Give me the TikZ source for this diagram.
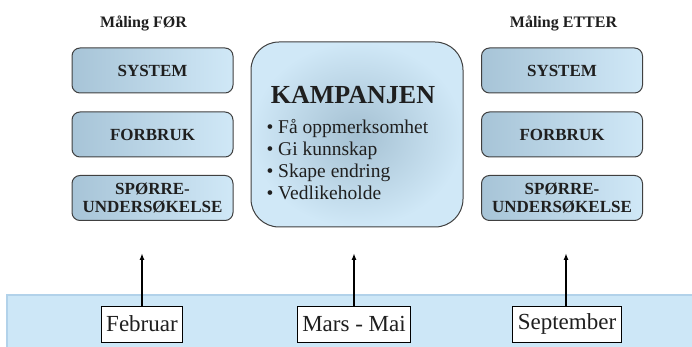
\documentclass[tikz,border=0pt]{standalone}
\usepackage{fontspec}
\setmainfont{Liberation Serif}
\usetikzlibrary{arrows.meta}
\definecolor{boxleft}{HTML}{A7C4D7}
\definecolor{boxright}{HTML}{D0E8F7}
\definecolor{bandblue}{HTML}{CDE7F7}
\definecolor{bandedge}{HTML}{B2D2EA}
\definecolor{kampin}{HTML}{A4C0D2}
\tikzset{
  malebox/.style={draw=black!75,line width=1pt,rounded corners=8pt,left color=boxleft,right color=boxright,
    minimum width=161pt,minimum height=45pt,align=center,text=black!88,
    font=\fontsize{17}{18.5}\selectfont\bfseries},
  tittel/.style={text=black!88,font=\fontsize{16}{18}\selectfont\bfseries},
  maaned/.style={draw=black,line width=0.8pt,fill=white,minimum height=36pt,inner xsep=5pt,
    text=black!88,font=\fontsize{23}{25}\selectfont},
  pil/.style={-{Latex[length=7pt,width=5pt]},line width=1.5pt}
}
\begin{document}
\begin{tikzpicture}[x=1pt,y=1pt]
\useasboundingbox (0,0) rectangle (692,347);
\fill[bandblue] (7,0) rectangle (692,52);
\draw[bandedge,line width=1.5pt] (7,0) -- (7,52) -- (692,52);
\node[tittel] (forTittel) at (143.5,324) {Måling FØR};
\node[tittel] (etterTittel) at (563.5,324) {Måling ETTER};
\node[malebox] (forSystem) at (152.5,276.5) {SYSTEM};
\node[malebox] (forForbruk) at (152.5,212.5) {FORBRUK};
\node[malebox] (forSporre) at (152.5,149) {SPØRRE-\\UNDERSØKELSE};
\node[malebox] (etterSystem) at (562,276.5) {SYSTEM};
\node[malebox] (etterForbruk) at (562,212.5) {FORBRUK};
\node[malebox] (etterSporre) at (562,149) {SPØRRE-\\UNDERSØKELSE};
\node[draw=black!75,line width=1pt,rounded corners=28pt,inner color=kampin,outer color=boxright,
  minimum width=212pt,minimum height=185pt] (kampanjen) at (357,212.5) {};
\node[text=black!88,font=\fontsize{26}{28}\selectfont\bfseries] (kampTittel) at (353,252) {KAMPANJEN};
\node[anchor=west,align=left,text=black!88,font=\fontsize{19.5}{22}\selectfont] (kampPunkter) at (263,187)
  {\textbullet\ Få oppmerksomhet\\ \textbullet\ Gi kunnskap\\ \textbullet\ Skape endring\\ \textbullet\ Vedlikeholde};
\node[maaned] (februar) at (142,23) {Februar};
\node[maaned] (marsMai) at (354,23) {Mars - Mai};
\node[maaned] (september) at (567,23) {September};
\coordinate (febTopp) at (142,94);
\coordinate (marsTopp) at (354,94);
\coordinate (sepTopp) at (566,94);
\draw[pil] (februar.north -| febTopp) -- (febTopp);
\draw[pil] (marsMai.north -| marsTopp) -- (marsTopp);
\draw[pil] (september.north -| sepTopp) -- (sepTopp);
\end{tikzpicture}
\end{document}
